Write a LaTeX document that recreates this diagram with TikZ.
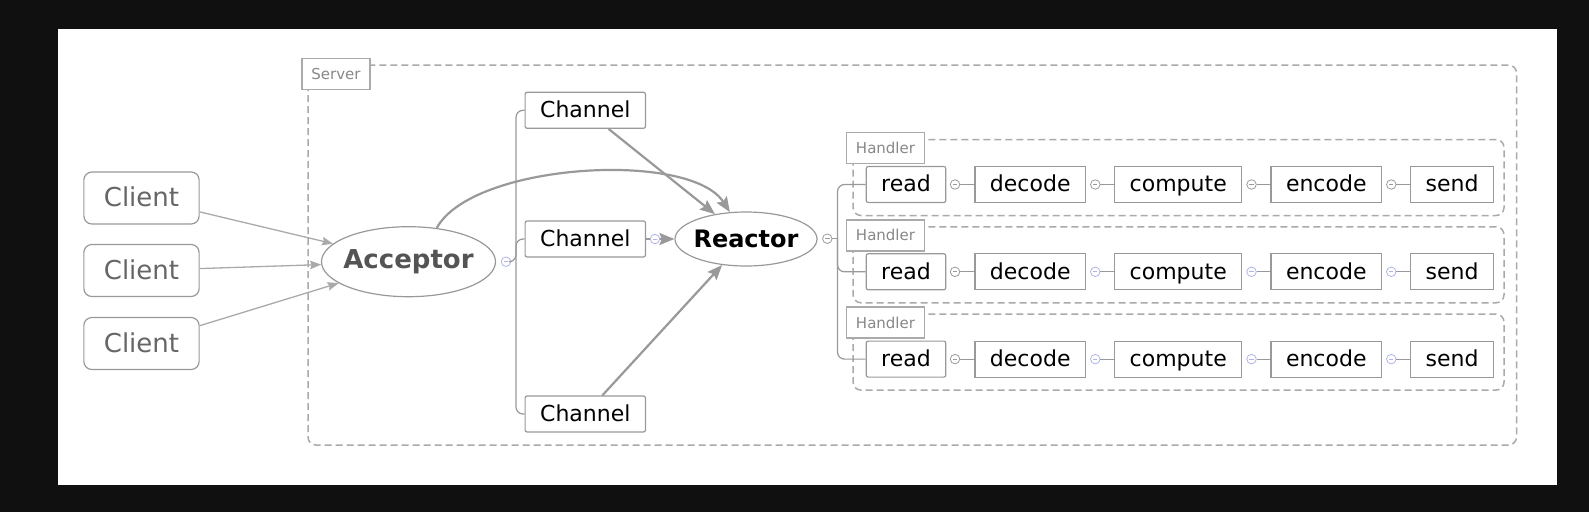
\documentclass[tikz,border=0pt]{standalone}
\usepackage{fontspec}
\setmainfont{DejaVu Sans}
\usetikzlibrary{shapes.geometric, positioning, arrows.meta}
\definecolor{panelbg}{HTML}{101010}
\definecolor{linegray}{HTML}{999999}
\definecolor{framegray}{HTML}{AAAAAA}
\definecolor{labelgray}{HTML}{888888}
\definecolor{foldgray}{HTML}{9A9A9A}
\definecolor{foldblue}{HTML}{AEB4EC}
\tikzset{
  >={Stealth[length=15pt, width=12pt, inset=2.5pt]},
  box/.style={draw=linegray, line width=1.2pt, fill=white, minimum height=36pt,
    inner xsep=15pt, inner ysep=0pt, text height=17pt, text depth=2.5pt,
    font=\fontsize{22}{26}\selectfont},
  client/.style={box, rounded corners=8pt, minimum height=52pt, inner xsep=20pt,
    text height=20pt, text depth=3pt, text=black!60, font=\fontsize{26}{30}\selectfont},
  hub/.style={ellipse, draw=linegray, line width=1.2pt, fill=white, inner xsep=-4pt,
    inner ysep=0pt, font=\bfseries\fontsize{26}{30}\selectfont},
  frame/.style={draw=framegray, line width=1.5pt, dash pattern=on 7pt off 4pt,
    rounded corners=8pt},
  tag/.style={draw=framegray, line width=1.8pt, fill=white, text=labelgray,
    minimum height=31pt, inner xsep=9.5pt, font=\fontsize{15}{18}\selectfont},
  fold/.style={circle, draw=#1, line width=0.8pt, fill=white, inner sep=0pt,
    minimum size=9.5pt, path picture={\draw[#1, line width=0.8pt]
    ([xshift=-2.2pt]path picture bounding box.center) --
    ([xshift=2.2pt]path picture bounding box.center);}},
  fork/.style={draw=linegray, line width=1.2pt, rounded corners=7pt},
  link/.style={draw=framegray, line width=1.3pt, -{Stealth[length=11pt, width=8.5pt, inset=1.5pt]}},
  flow/.style={draw=linegray, line width=2.2pt, ->},
}

\begin{document}
\begin{tikzpicture}[x=1pt, y=-1pt]
  % background
  \fill[panelbg] (0,0) rectangle (1589,512);
  \fill[white] (57.5,29) rectangle (1557,485);
  \useasboundingbox (0,0) rectangle (1589,512);

  % server
  \draw[frame] (308,65) rectangle (1516.5,445);
  \node[tag] (server) at (336,74) {Server};

  % clients
  \node[client] (client1) at (141.5,198) {Client};
  \node[client] (client2) at (141.5,270.5) {Client};
  \node[client] (client3) at (141.5,343.5) {Client};

  % acceptor, channels, reactor
  \node[hub, minimum width=174pt, minimum height=70pt, text=black!67] (acceptor) at (408.5,261.7) {Acceptor};
  \node[fold=foldblue] (accfold) at (506,261.7) {};
  \coordinate (accfork) at (516,261.7);
  \node[box, rounded corners=2pt] (chantop) at (585.3,110.3) {Channel};
  \node[box, rounded corners=2pt] (chanmid) at (585.3,239) {Channel};
  \node[box, rounded corners=2pt] (chanbot) at (585.3,414) {Channel};
  \node[fold=foldblue] (chanfold) at (655,239) {};
  \node[hub, minimum width=142pt, minimum height=54pt,
    font=\bfseries\fontsize{24}{28}\selectfont] (reactor) at (746,239) {Reactor};
  \node[fold=foldgray] (reafold) at (827.3,238.7) {};
  \coordinate (reafork) at (837.5,238.7);

  % handlers
  \foreach \y/\i/\c in {184.5/1/foldgray, 271.8/2/foldblue, 359.1/3/foldblue} {
    \draw[frame] (853,\y-45) rectangle (1504,\y+31);
    \node[tag] (handler\i) at (885.5,\y-36.5) {Handler};
    \node[box, rounded corners=2pt] (read\i) at (906,\y) {read};
    \node[box, right=28pt of read\i] (decode\i) {decode};
    \node[box, right=28pt of decode\i] (compute\i) {compute};
    \node[box, right=28pt of compute\i] (encode\i) {encode};
    \node[box, right=28pt of encode\i] (send\i) {send};
    \node[fold=foldgray, right=3.5pt of read\i] (readfold\i) {};
    \node[fold=\c, right=4pt of decode\i] (decodefold\i) {};
    \node[fold=\c, right=4pt of compute\i] (computefold\i) {};
    \node[fold=\c, right=4pt of encode\i] (encodefold\i) {};
    \draw[fork] (readfold\i) -- (decode\i);
    \draw[fork] (decodefold\i) -- (compute\i);
    \draw[fork] (computefold\i) -- (encode\i);
    \draw[fork] (encodefold\i) -- (send\i);
    \draw[fork] (reafork) |- (read\i);
  }

  % connections
  \draw[link] (client1) -- (acceptor);
  \draw[link] (client2) -- (acceptor);
  \draw[link] (client3) -- (acceptor);
  \draw[fork] (accfold) -- (accfork) |- (chantop);
  \draw[fork] (accfork) |- (chanmid);
  \draw[fork] (accfork) |- (chanbot);
  \draw[flow] (chantop) -- (reactor);
  \draw[flow] (chanbot) -- (reactor);
  \draw[fork] (chanmid) -- (chanfold);
  \draw[flow] (chanfold) -- (reactor);
  \draw[flow] (acceptor.50) .. controls (472,163) and (690,150) .. (reactor.121);
  \draw[fork] (reafold) -- (reafork);
\end{tikzpicture}
\end{document}
